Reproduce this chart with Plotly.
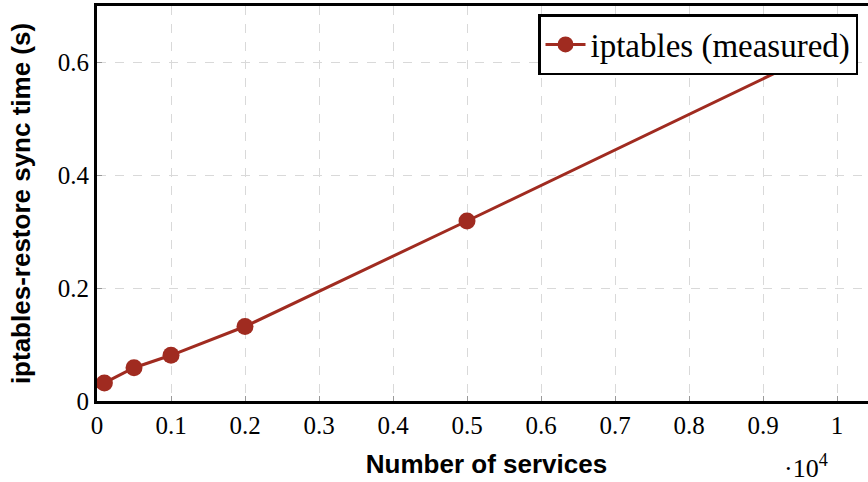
import plotly.graph_objects as go

services = [100, 500, 1000, 2000, 5000, 10000]
sync_time = [0.032, 0.059, 0.081, 0.132, 0.319, 0.634]
series_name = "iptables (measured)"
x_scale = 10000  # axis shown in units of 10^4
y_tick_vals = [0, 0.2, 0.4, 0.6]
y_tick_text = ["0", "0.2", "0.4", "0.6"]

color = "#a02b20"
serif = "Liberation Serif, DejaVu Serif, serif"
sans = "Liberation Sans, Arial, sans-serif"

L, T, B, W, H = 97, 6, 81, 876, 482
PW = W - L
x_max = (W - L) / 740

x_vals = [s / x_scale for s in services]

fig = go.Figure()
fig.add_trace(go.Scatter(
    x=x_vals, y=sync_time, mode="lines+markers", name=series_name,
    line=dict(color=color, width=3),
    marker=dict(color=color, size=17),
))

fig.update_layout(
    width=W, height=H,
    margin=dict(l=L, r=0, t=T, b=B),
    plot_bgcolor="white", paper_bgcolor="white",
    showlegend=True,
    legend=dict(x=(858 - L) / PW, y=(H - B - 14) / (H - B - T), xanchor="right", yanchor="top",
                bgcolor="white", bordercolor="black", borderwidth=2.5,
                font=dict(family=serif, size=33, color="black"),
                itemwidth=40, tracegroupgap=0),
    xaxis=dict(range=[0, x_max], tickmode="linear", tick0=0, dtick=0.1,
               showgrid=True, gridcolor="#d9d9d9", griddash="dash", gridwidth=1,
               showline=True, linecolor="black", linewidth=3, mirror=True,
               ticks="inside", ticklen=5, tickcolor="#999999",
               zeroline=False,
               tickfont=dict(family=serif, size=25, color="black"),
               title=dict(text="<b>Number of services</b>", standoff=17,
                          font=dict(family=sans, size=26, color="black"))),
    yaxis=dict(range=[0, 0.7], tickvals=y_tick_vals, ticktext=y_tick_text,
               showgrid=True, gridcolor="#d9d9d9", griddash="dash", gridwidth=1,
               showline=True, linecolor="black", linewidth=3, mirror=False,
               ticks="inside", ticklen=5, tickcolor="#999999",
               zeroline=False,
               tickfont=dict(family=serif, size=25, color="black"),
               title=dict(text="<b>iptables-restore sync time (s)</b>", standoff=20,
                          font=dict(family=sans, size=26, color="black"))),
    annotations=[dict(text="·10<sup>4</sup>", x=(806 - L) / PW, y=(H - B - 466) / (H - B - T),
                      xref="paper", yref="paper", xanchor="center", yanchor="middle",
                      showarrow=False, font=dict(family=serif, size=26, color="black"))],
)
fig.write_html("out.html", config={"displayModeBar": False},
               post_script="document.body.style.margin='0';document.body.style.overflow='hidden';")
